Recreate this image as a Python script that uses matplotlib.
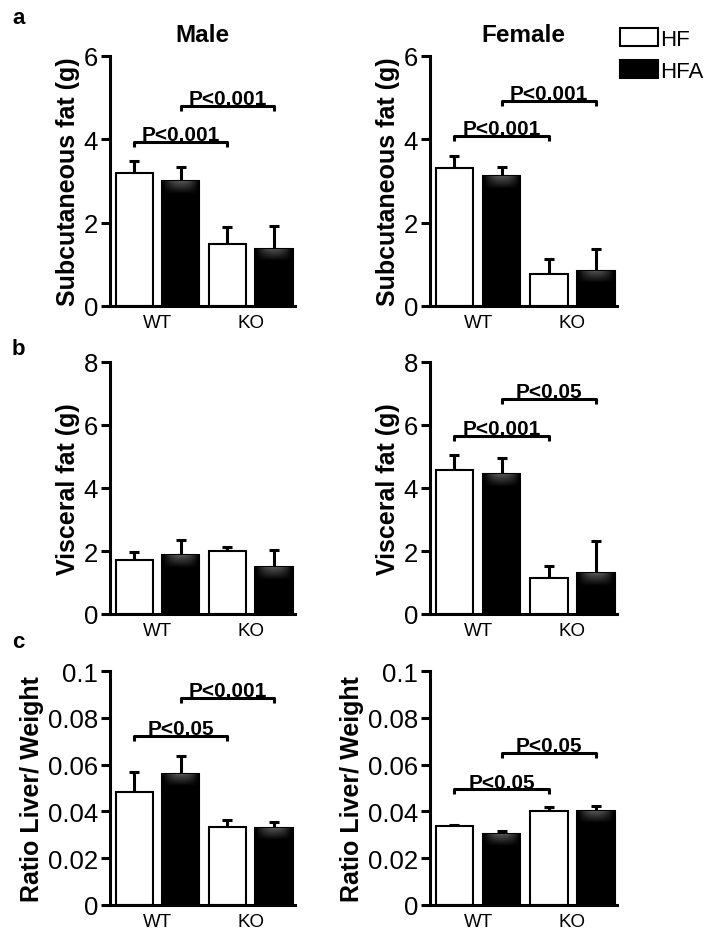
import numpy as np
import matplotlib
matplotlib.use("Agg")
import matplotlib.pyplot as plt
from matplotlib.patches import Patch

plt.rcParams['font.family'] = ['Liberation Sans', 'DejaVu Sans']

W, H = 713, 945

groups = ["WT", "KO"]

# subcutaneous fat (g)
sub_male_hf = [3.20, 1.50]
sub_male_hf_err = [0.28, 0.40]
sub_male_hfa = [3.00, 1.38]
sub_male_hfa_err = [0.33, 0.54]
sub_female_hf = [3.31, 0.77]
sub_female_hf_err = [0.29, 0.36]
sub_female_hfa = [3.12, 0.85]
sub_female_hfa_err = [0.21, 0.53]

# visceral fat (g)
vis_male_hf = [1.71, 2.00]
vis_male_hf_err = [0.26, 0.13]
vis_male_hfa = [1.87, 1.49]
vis_male_hfa_err = [0.48, 0.54]
vis_female_hf = [4.57, 1.14]
vis_female_hf_err = [0.48, 0.38]
vis_female_hfa = [4.44, 1.30]
vis_female_hfa_err = [0.51, 1.02]

# liver / body weight
liv_male_hf = [0.0483, 0.0333]
liv_male_hf_err = [0.0085, 0.0030]
liv_male_hfa = [0.0560, 0.0329]
liv_male_hfa_err = [0.0077, 0.0026]
liv_female_hf = [0.0336, 0.0400]
liv_female_hf_err = [0.0006, 0.0020]
liv_female_hfa = [0.0302, 0.0400]
liv_female_hfa_err = [0.0015, 0.0025]

# significance brackets: (bar a, bar b, height, label)
sig_sub_male = [(0, 2, 3.93, "P<0.001"), (1, 3, 4.80, "P<0.001")]
sig_sub_female = [(0, 2, 4.08, "P<0.001"), (1, 3, 4.92, "P<0.001")]
sig_vis_male = []
sig_vis_female = [(0, 2, 5.65, "P<0.001"), (1, 3, 6.83, "P<0.05")]
sig_liv_male = [(0, 2, 0.0722, "P<0.05"), (1, 3, 0.0885, "P<0.001")]
sig_liv_female = [(0, 2, 0.0494, "P<0.05"), (1, 3, 0.065, "P<0.05")]


def rect(l, r, t, b):
    return [l / W, 1 - b / H, (r - l) / W, (b - t) / H]


# little grey bevel at the top of the black bars
yy, xx = np.mgrid[0:1:40j, 0:1:40j]
shade = np.clip(1 - yy, 0, 1) * np.clip(1 - 2.2 * np.abs(xx - 0.5) ** 2 * 2, 0, 1)
shade_rgb = np.dstack([shade * 0.33] * 3)


def panel(ax, hf, hf_err, hfa, hfa_err, sig, ymax, ystep, ylabel, fmt):
    x = np.arange(4)
    vals = [hf[0], hfa[0], hf[1], hfa[1]]
    errs = [hf_err[0], hfa_err[0], hf_err[1], hfa_err[1]]
    colors = ["white", "black", "white", "black"]
    ax.errorbar(x, vals, yerr=[np.zeros(4), errs], fmt='none', ecolor='black',
                elinewidth=2.2, capsize=3.3, capthick=2.2, zorder=1)
    bars = ax.bar(x, vals, width=0.8, color=colors, edgecolor='black', linewidth=1.5, zorder=2)
    band = ymax * 0.05
    for i in (1, 3):
        b = bars[i]
        x0 = b.get_x()
        top = b.get_height()
        im = ax.imshow(shade_rgb, extent=[x0, x0 + b.get_width(), top - band, top],
                       aspect='auto', origin='upper', zorder=2.5)
        im.set_clip_path(b)
    ax.set_xlim(-0.52, 3.45)
    ax.set_ylim(0, ymax)
    ticks = np.arange(0, ymax + ystep / 2, ystep)
    ax.set_yticks(ticks)
    ax.set_yticklabels([fmt(t) for t in ticks], fontsize=18.5)
    ax.set_xticks([0.5, 2.5])
    ax.set_xticklabels(groups, fontsize=13.5)
    ax.tick_params(axis='x', length=0, pad=6)
    ax.tick_params(axis='y', length=6.5, width=2.2, pad=2)
    for s in ["top", "right"]:
        ax.spines[s].set_visible(False)
    for s in ["left", "bottom"]:
        ax.spines[s].set_linewidth(2.2)
    ax.set_ylabel(ylabel, fontsize=18, fontweight='bold', labelpad=3)
    drop = ymax * 0.02
    for a, b, h, lab in sig:
        ax.plot([a, a, b, b], [h - drop, h, h, h - drop], color='black', lw=2.2,
                solid_capstyle='butt', clip_on=False, zorder=3)
        ax.text((a + b) / 2, h + ymax * 0.008, lab, ha='center', va='baseline',
                fontsize=15, fontweight='bold', zorder=3)


fig = plt.figure(figsize=(W / 100, H / 100), dpi=100)

fmt_int = lambda t: "%d" % round(t)
fmt_dec = lambda t: "0" if t == 0 else ("%.2f" % t).rstrip("0")

ax1 = fig.add_axes(rect(110, 295, 57, 307))
panel(ax1, sub_male_hf, sub_male_hf_err, sub_male_hfa, sub_male_hfa_err,
      sig_sub_male, 6, 2, "Subcutaneous fat (g)", fmt_int)
ax1.set_title("Male", fontsize=17.5, fontweight='bold', pad=11)

ax2 = fig.add_axes(rect(430, 617, 57, 307))
panel(ax2, sub_female_hf, sub_female_hf_err, sub_female_hfa, sub_female_hfa_err,
      sig_sub_female, 6, 2, "Subcutaneous fat (g)", fmt_int)
ax2.set_title("Female", fontsize=17.5, fontweight='bold', pad=11)

ax3 = fig.add_axes(rect(110, 295, 363, 615))
panel(ax3, vis_male_hf, vis_male_hf_err, vis_male_hfa, vis_male_hfa_err,
      sig_vis_male, 8, 2, "Visceral fat (g)", fmt_int)

ax4 = fig.add_axes(rect(430, 617, 363, 615))
panel(ax4, vis_female_hf, vis_female_hf_err, vis_female_hfa, vis_female_hfa_err,
      sig_vis_female, 8, 2, "Visceral fat (g)", fmt_int)

ax5 = fig.add_axes(rect(110, 295, 672, 906))
panel(ax5, liv_male_hf, liv_male_hf_err, liv_male_hfa, liv_male_hfa_err,
      sig_liv_male, 0.1, 0.02, "Ratio Liver/ Weight", fmt_dec)

ax6 = fig.add_axes(rect(430, 617, 672, 906))
panel(ax6, liv_female_hf, liv_female_hf_err, liv_female_hfa, liv_female_hfa_err,
      sig_liv_female, 0.1, 0.02, "Ratio Liver/ Weight", fmt_dec)

# panel letters
for lab, y in [("a", 18), ("b", 350), ("c", 642)]:
    fig.text(12 / W, 1 - y / H, lab, fontsize=16, fontweight='bold', va='center')

handles = [Patch(facecolor='white', edgecolor='black', linewidth=1.5, label='HF'),
           Patch(facecolor='black', edgecolor='black', linewidth=1.5, label='HFA')]
fig.legend(handles=handles, loc='upper left', bbox_to_anchor=(620 / W, 1 - 29 / H),
           frameon=False, fontsize=16, handlelength=1.7, handleheight=0.9,
           handletextpad=0.12, labelspacing=0.45, borderpad=0, borderaxespad=0)

fig.savefig("out.png", dpi=100)
